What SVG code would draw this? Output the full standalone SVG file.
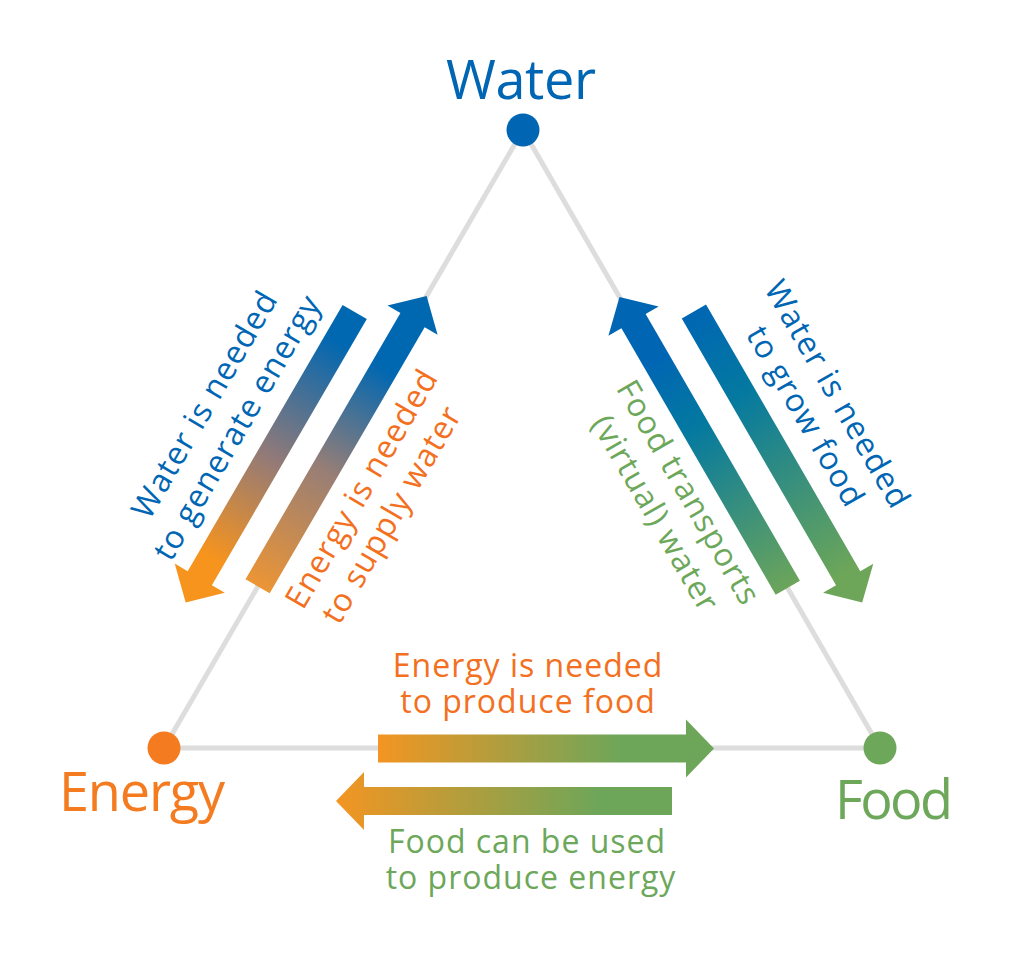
<svg xmlns="http://www.w3.org/2000/svg" width="1013" height="957" viewBox="0 0 1013 957">
<style>
.edge{stroke:#DDDDDE;stroke-width:5;fill:none}
.lbl{font-family:"Open Sans","Noto Sans",sans-serif;font-size:32px;letter-spacing:1px;text-anchor:middle}
.big{font-family:"Open Sans","Noto Sans",sans-serif;font-size:54px;text-anchor:middle}
.blue{fill:#0066B3}
.orange{fill:#F37021}
.green{fill:#6CA75A}
</style>
<defs>
<path id="arr" d="M0,-14 H308 V-29 L336,0 L308,29 V14 H0 Z"/>
<linearGradient id="g-we" x1="0" y1="0" x2="1" y2="0">
<stop offset="0" stop-color="#0067B1"/><stop offset="0.1" stop-color="#0067B1"/><stop offset="0.5" stop-color="#927A78"/><stop offset="0.85" stop-color="#F7941D"/><stop offset="1" stop-color="#F7941D"/>
</linearGradient>
<linearGradient id="g-ew" x1="0" y1="0" x2="1" y2="0">
<stop offset="0" stop-color="#EC9535"/><stop offset="0.4" stop-color="#977E76"/><stop offset="0.75" stop-color="#0067B1"/><stop offset="1" stop-color="#0067B1"/>
</linearGradient>
<linearGradient id="g-fw" x1="0" y1="0" x2="1" y2="0">
<stop offset="0" stop-color="#6CA55A"/><stop offset="0.55" stop-color="#0479A0"/><stop offset="0.78" stop-color="#0066B3"/><stop offset="1" stop-color="#0066B3"/>
</linearGradient>
<linearGradient id="g-wf" x1="0" y1="0" x2="1" y2="0">
<stop offset="0" stop-color="#0066B3"/><stop offset="0.28" stop-color="#0479A0"/><stop offset="0.9" stop-color="#6DA658"/><stop offset="1" stop-color="#6DA658"/>
</linearGradient>
<linearGradient id="g-ef" x1="0" y1="0" x2="1" y2="0">
<stop offset="0" stop-color="#F39522"/><stop offset="0.72" stop-color="#6EA659"/><stop offset="1" stop-color="#6EA659"/>
</linearGradient>
<linearGradient id="g-fe" x1="0" y1="0" x2="1" y2="0">
<stop offset="0" stop-color="#6EA659"/><stop offset="0.22" stop-color="#6EA659"/><stop offset="1" stop-color="#F39522"/>
</linearGradient>
</defs>
<rect width="1013" height="957" fill="#FFFFFF"/>
<g id="connectors">
<line class="edge" x1="523" y1="130" x2="164" y2="748"/>
<line class="edge" x1="523" y1="130" x2="880" y2="748"/>
<line class="edge" x1="164" y1="748" x2="880" y2="748"/>
<use href="#arr" fill="url(#g-we)" transform="translate(354.7,312) rotate(120.2)"/>
<use href="#arr" fill="url(#g-ew)" transform="translate(257.6,586.3) rotate(-59.8)"/>
<use href="#arr" fill="url(#g-fw)" transform="translate(787.8,587.7) rotate(-120.06)"/>
<use href="#arr" fill="url(#g-wf)" transform="translate(693.9,311.6) rotate(59.94)"/>
<use href="#arr" fill="url(#g-ef)" transform="translate(378,748.5)"/>
<use href="#arr" fill="url(#g-fe)" transform="translate(672,801) rotate(180)"/>
<text class="lbl blue" transform="translate(214,410) rotate(-59.8)">Water is needed</text>
<text class="lbl blue" transform="translate(246.5,433) rotate(-59.8)">to generate energy</text>
<text class="lbl orange" transform="translate(371,494) rotate(-59.8)">Energy is needed</text>
<text class="lbl orange" transform="translate(401,520) rotate(-59.8)">to supply water</text>
<text class="lbl blue" transform="translate(828,400) rotate(59.94)">Water is needed</text>
<text class="lbl blue" transform="translate(796,422) rotate(59.94)">to grow food</text>
<text class="lbl green" transform="translate(679,498) rotate(59.94)">Food transports</text>
<text class="lbl green" transform="translate(646,519) rotate(59.94)">(virtual) water</text>
<text class="lbl orange" x="528" y="677">Energy is needed</text>
<text class="lbl orange" x="528" y="713">to produce food</text>
<text class="lbl green" x="527" y="853">Food can be used</text>
<text class="lbl green" x="531" y="889">to produce energy</text>
</g>
<g id="water">
<circle cx="523" cy="130" r="16.5" fill="#0066B3"/>
<text class="big blue" x="521" y="99" textLength="150">Water</text>
</g>
<g id="energy">
<circle cx="164" cy="748" r="16.5" fill="#F47B20"/>
<text class="big" x="142" y="811" fill="#F47B20" textLength="166">Energy</text>
</g>
<g id="food">
<circle cx="880" cy="748" r="16.5" fill="#6CA75A"/>
<text class="big green" x="894" y="819" textLength="118">Food</text>
</g>
</svg>
